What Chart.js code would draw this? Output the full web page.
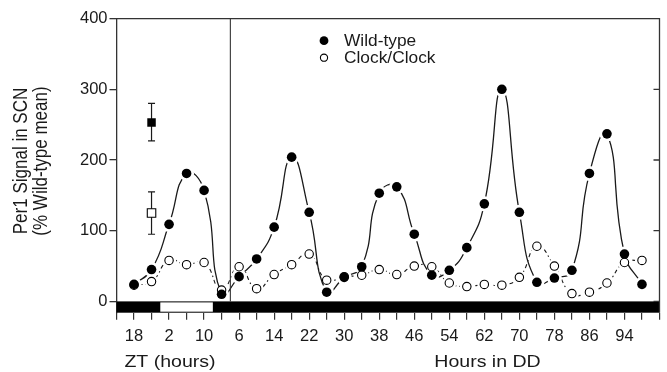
<!DOCTYPE html>
<html><head><meta charset="utf-8">
<script src="https://cdn.jsdelivr.net/npm/chart.js@4/dist/chart.umd.min.js"></script>
<style>html,body{margin:0;padding:0;background:#fff}#wrap{width:667px;height:372px}</style>
</head><body><div id="wrap"><canvas id="c" width="667" height="372"></canvas></div>
<script>
// continuous time axis (hours); ZT before DD, DD hour = t - 36
const hours    = [18,22,26,30,34,38,42,46,50,54,58,62,66,70,74,78,82,86,90,94,98,102,106,110,114,118,122,126,130,134];
const wildType = [24,45,109,181,157,10,35,60,105,204,126,13,34,49,153,162,95,37,44,76,138,300,126,27,33,44,181,237,67,24];
const clockClock=[23,28,58,52,55,16,49,18,38,52,67,30,35,37,45,38,50,49,26,21,24,23,34,78,50,11,13,26,55,58];
// mean +/- error markers
const errHour = 22;
const wildErr  = {mean:253, low:227, high:280};
const clockErr = {mean:125, low:95,  high:155};
// tick labels
const labeledHours = [18,26,34,42,50,58,66,74,82,90,98,106,114,122,130];
const tickLabels   = ['18','2','10','6','14','22','30','38','46','54','62','70','78','86','94'];
const yTicks = [0,100,200,300,400];
const lightPeriods = [[24,36]];
const darkRange = [14,138];
const ddLine = 40;
const xMin = 14, xMax = 138, yMin = -16, yMax = 400;

const FONT = '"Liberation Sans", Arial, Helvetica, sans-serif';
const INK = '#1a1a1a';

const pts = arr => hours.map((h,i)=>({x:h,y:arr[i]}));

const barPlugin = {
  id:'lightDark',
  afterDatasetsDraw(chart){
    const {ctx, scales:{x,y}} = chart;
    const y0 = y.getPixelForValue(0), y1 = y.getPixelForValue(yMin);
    ctx.save();
    ctx.fillStyle = '#000';
    const xa = x.getPixelForValue(darkRange[0]), xb = x.getPixelForValue(darkRange[1]);
    ctx.fillRect(xa, y0, xb-xa, y1-y0);
    ctx.fillStyle = '#fff';
    lightPeriods.forEach(([a,b])=>{
      const pa = x.getPixelForValue(a), pb = x.getPixelForValue(b);
      ctx.fillRect(pa, y0+1, pb-pa, y1-y0-2);
    });
    ctx.restore();
  }
};

const errPlugin = {
  id:'errBars',
  beforeDatasetsDraw(chart){
    const {ctx, scales:{x,y}} = chart;
    ctx.save();
    ctx.strokeStyle = INK; ctx.lineWidth = 1.2;
    const px = x.getPixelForValue(errHour);
    [wildErr, clockErr].forEach(e=>{
      const lo = y.getPixelForValue(e.low), hi = y.getPixelForValue(e.high);
      ctx.beginPath();
      ctx.moveTo(px, lo); ctx.lineTo(px, hi);
      ctx.moveTo(px-3.5, lo); ctx.lineTo(px+3.5, lo);
      ctx.moveTo(px-3.5, hi); ctx.lineTo(px+3.5, hi);
      ctx.stroke();
    });
    ctx.restore();
  }
};

const framePlugin = {
  id:'frame',
  afterDraw(chart){
    const {ctx, chartArea:a, scales:{x,y}} = chart;
    ctx.save();
    ctx.strokeStyle = '#333'; ctx.lineWidth = 1.3;
    ctx.beginPath();
    ctx.moveTo(a.left, a.top); ctx.lineTo(a.right, a.top); ctx.lineTo(a.right, a.bottom);
    yTicks.forEach(v=>{ const py = y.getPixelForValue(v); ctx.moveTo(a.right, py); ctx.lineTo(a.right-6, py); });
    ctx.stroke();
    ctx.lineWidth = 1.1; ctx.strokeStyle = '#333';
    const lx = x.getPixelForValue(ddLine);
    ctx.beginPath(); ctx.moveTo(lx, a.top); ctx.lineTo(lx, y.getPixelForValue(0)); ctx.stroke();
    // legend
    ctx.fillStyle = '#000';
    ctx.beginPath(); ctx.arc(324, 40.7, 4.4, 0, Math.PI*2); ctx.fill();
    ctx.lineWidth = 1.1; ctx.strokeStyle = '#000';
    ctx.beginPath(); ctx.arc(324, 57.7, 3.6, 0, Math.PI*2); ctx.stroke();
    ctx.font = '16.5px ' + FONT; ctx.textBaseline = 'middle'; ctx.textAlign = 'left';
    ctx.fillStyle = INK;
    const drawS = (t, px, py, sx) => { ctx.save(); ctx.translate(px, py); ctx.scale(sx,1); ctx.fillText(t, 0, 0); ctx.restore(); };
    drawS('Wild-type', 344, 41, 1.05);
    drawS('Clock/Clock', 344, 58, 1.05);
    // axis titles
    ctx.font = '17px ' + FONT; ctx.textAlign = 'center';
    drawS('ZT (hours)', 170, 362, 1.15);
    drawS('Hours in DD', 487.5, 362, 1.15);
    ctx.save(); ctx.translate(22, 161); ctx.scale(1.15,1); ctx.rotate(-Math.PI/2); ctx.fillText('Per1 Signal in SCN', 0, 0); ctx.restore();
    ctx.save(); ctx.translate(42, 161); ctx.scale(1.15,1); ctx.rotate(-Math.PI/2); ctx.fillText('(% Wild-type mean)', 0, 0); ctx.restore();
    ctx.restore();
  }
};

new Chart(document.getElementById('c'), {
  type:'scatter',
  data:{ datasets:[
    { label:'Wild-type', data:pts(wildType), showLine:false, order:0,
      pointRadius:4.8, pointHoverRadius:4.8, pointBackgroundColor:'#000', pointBorderWidth:0 },
    { label:'Wild-type mean', data:[{x:errHour,y:wildErr.mean}], showLine:false, order:0,
      pointStyle:'rect', pointRadius:6, pointBackgroundColor:'#000', pointBorderWidth:0 },
    { label:'Clock/Clock mean', data:[{x:errHour,y:clockErr.mean}], showLine:false, order:1,
      pointStyle:'rect', pointRadius:6, pointBackgroundColor:'#fff', pointBorderColor:'#000', pointBorderWidth:1.1 },
    { label:'Clock/Clock', data:pts(clockClock), showLine:false, order:1,
      pointRadius:4.2, pointBackgroundColor:'#fff', pointBorderColor:'#000', pointBorderWidth:1.1 },
    { label:'wt line', data:pts(wildType), showLine:true, order:2, tension:0.5,
      borderColor:INK, borderWidth:1.3, pointRadius:7.5, pointBackgroundColor:'#fff', pointBorderWidth:0 },
    { label:'clk line', data:pts(clockClock), showLine:true, order:3, tension:0.5,
      borderColor:INK, borderWidth:1.1, borderDash:[4,3,1.5,3], pointRadius:7, pointBackgroundColor:'#fff', pointBorderWidth:0 }
  ]},
  options:{
    responsive:false, animation:false, devicePixelRatio:1,
    layout:{ padding:{ top:18.6, right:2, left:0, bottom:0 } },
    plugins:{ legend:{display:false}, tooltip:{enabled:false} },
    scales:{
      x:{ type:'linear', min:xMin, max:xMax,
        afterBuildTicks(s){ const t=[]; for(let v=xMin; v<=xMax; v+=4) t.push({value:v}); s.ticks=t; },
        afterFit(s){ s.height = 59.3; },
        grid:{ drawOnChartArea:false, drawTicks:true, tickLength:7, color:'#333', lineWidth:1.2 },
        border:{ display:false },
        ticks:{ autoSkip:false, maxRotation:0, padding:7, color:INK, font:{ family:FONT, size:16.5 },
          callback(v){ const i = labeledHours.indexOf(v); return i>=0 ? tickLabels[i] : ''; } }
      },
      y:{ type:'linear', min:yMin, max:yMax,
        afterBuildTicks(s){ s.ticks = yTicks.map(v=>({value:v})); },
        afterFit(s){ s.width = 116.5; },
        grid:{ drawOnChartArea:false, drawTicks:true, tickLength:7, color:'#333', lineWidth:1.3 },
        border:{ display:true, color:'#333', width:1.3 },
        ticks:{ padding:2, color:INK, font:{ family:FONT, size:16.5 } }
      }
    }
  },
  plugins:[barPlugin, errPlugin, framePlugin]
});
</script></body></html>
